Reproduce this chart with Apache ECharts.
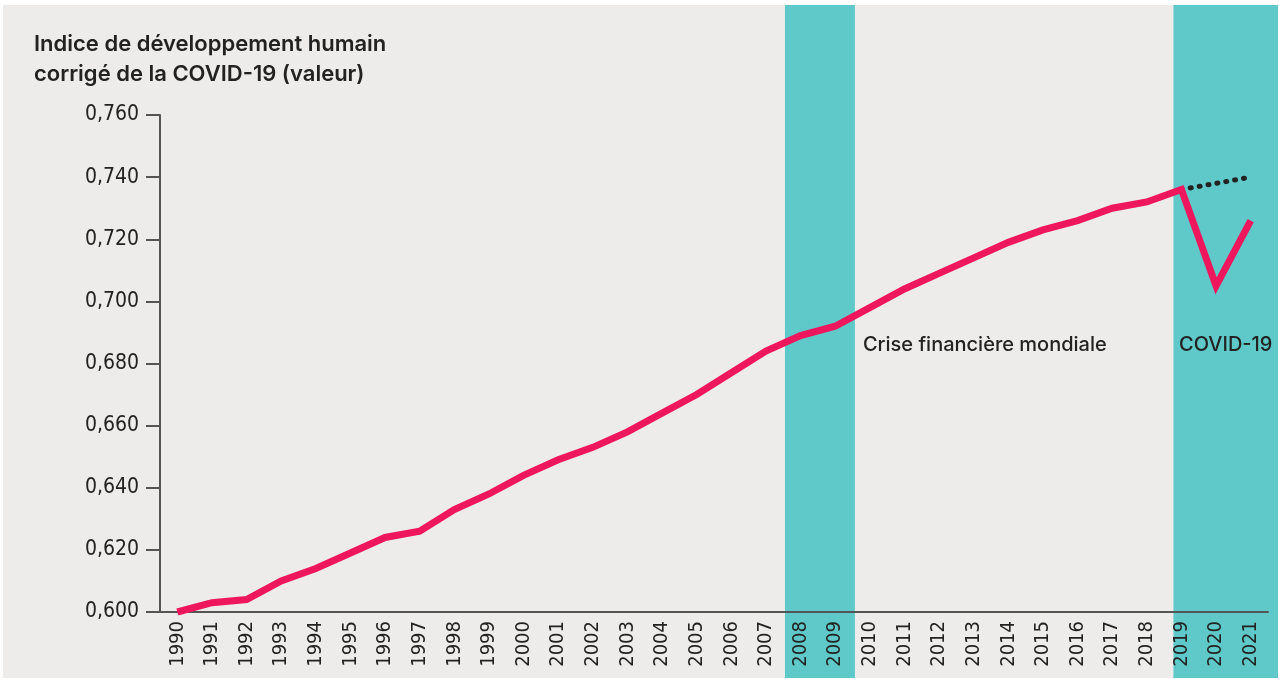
<!DOCTYPE html>
<html><head><meta charset="utf-8">
<script src="https://cdn.jsdelivr.net/npm/echarts@6/dist/echarts.min.js"></script>
<style>
html,body{margin:0;padding:0;background:#ffffff;width:1279px;height:679px;overflow:hidden;}
#wrap{position:absolute;left:3px;top:5px;width:1275px;height:673px;background:#EDECEA;}
</style></head>
<body><div id="wrap"></div>
<script>
const years = ['1990','1991','1992','1993','1994','1995','1996','1997','1998','1999','2000','2001','2002','2003','2004','2005','2006','2007','2008','2009','2010','2011','2012','2013','2014','2015','2016','2017','2018','2019','2020','2021'];
const hdiCovid = [0.600,0.603,0.604,0.610,0.614,0.619,0.624,0.626,0.633,0.638,0.644,0.649,0.653,0.658,0.664,0.670,0.677,0.684,0.689,0.692,0.698,0.704,0.709,0.714,0.719,0.723,0.726,0.730,0.732,0.736,0.705,0.726];
const hdiTrend = [null,null,null,null,null,null,null,null,null,null,null,null,null,null,null,null,null,null,null,null,null,null,null,null,null,null,null,null,null,0.736,0.738,0.740];
const yTicks = [0.600,0.620,0.640,0.660,0.680,0.700,0.720,0.740,0.760];
const crisisBand = [2007.55, 2009.57];
const covidBand = [2018.77, 2021.79];
const titleText = 'Indice de développement humain\ncorrigé de la COVID-19 (valeur)';
const crisisLabel = 'Crise financière mondiale';
const covidLabel = 'COVID-19';

// pick an installed condensed font
function pickFont(cands, fallback) {
  const c = document.createElement('canvas').getContext('2d');
  const s = '0,760 1990 2021 abcdefghijklmnop';
  for (const f of cands) {
    c.font = '40px monospace'; const w1 = c.measureText(s).width;
    c.font = "40px '" + f + "', monospace"; const w2 = c.measureText(s).width;
    c.font = '40px serif'; const w3 = c.measureText(s).width;
    c.font = "40px '" + f + "', serif"; const w4 = c.measureText(s).width;
    if (w1 !== w2 && w3 !== w4) return f;
  }
  return fallback;
}
const narrowName = pickFont(['Liberation Sans Narrow','DejaVu Sans Condensed','Roboto Condensed','Open Sans Condensed','Noto Sans Condensed'], null);
const narrow = narrowName ? "'" + narrowName + "'" : 'Roboto';
const yFont = narrowName ? 21 : 17;
const xFont = narrowName ? 20 : 17;
const uiFont = 'Inter, "Open Sans", sans-serif';

const chart = echarts.init(document.getElementById('wrap'), null, {renderer:'canvas'});
chart.setOption({
  backgroundColor: 'transparent',
  animation: false,
  title: {
    text: titleText, left: 26, top: 19,
    textStyle: {fontFamily: uiFont, fontSize: 22, fontWeight: 600, color: '#222', lineHeight: 30}
  },
  grid: [
    {left: 157, right: 10, top: 110, bottom: 66},
    {left: 157, right: 0, top: 0, bottom: 0}
  ],
  xAxis: [
    {type: 'category', gridIndex: 0, data: years, boundaryGap: true, z: 10,
     axisLine: {lineStyle: {color: '#555', width: 2}},
     axisTick: {show: false},
     axisLabel: {rotate: 90, interval: 0, margin: 9, color: '#222', fontFamily: narrow, fontSize: xFont}},
    {type: 'value', gridIndex: 1, min: 1989.5, max: covidBand[1], show: false}
  ],
  yAxis: [
    {type: 'value', gridIndex: 0, min: yTicks[0], max: yTicks[yTicks.length-1], interval: 0.02, z: 10,
     axisLine: {show: true, lineStyle: {color: '#555', width: 2}},
     axisTick: {show: true, length: 14, lineStyle: {color: '#555', width: 2}},
     splitLine: {show: false},
     axisLabel: {margin: 21, color: '#222', fontFamily: narrow, fontSize: yFont,
       formatter: v => v.toFixed(3).replace('.', ',')}},
    {type: 'value', gridIndex: 1, min: 0, max: 1, show: false}
  ],
  series: [
    {type: 'line', xAxisIndex: 1, yAxisIndex: 1, z: 1, data: [[1990, -1]], showSymbol: false, silent: true,
     lineStyle: {opacity: 0},
     markArea: {silent: true,
       itemStyle: {color: '#5FC9C9', opacity: 1},
       data: [
         [{xAxis: crisisBand[0], label: {show: true, position: 'right', distance: 8, offset: [0, 3], formatter: crisisLabel,
            color: '#222', fontFamily: uiFont, fontSize: 20, fontWeight: 500}},
          {xAxis: crisisBand[1]}],
         [{xAxis: covidBand[0], label: {show: true, position: 'inside', offset: [0, 3], formatter: covidLabel,
            color: '#222', fontFamily: uiFont, fontSize: 20, fontWeight: 500}},
          {xAxis: covidBand[1]}]
       ]}},
    {type: 'line', xAxisIndex: 0, yAxisIndex: 0, z: 12, data: hdiTrend, showSymbol: false, connectNulls: false,
     lineStyle: {color: '#222', width: 5, type: [1, 8], cap: 'round'}},
    {type: 'line', xAxisIndex: 0, yAxisIndex: 0, z: 13, data: hdiCovid, showSymbol: false,
     lineStyle: {color: '#EE175D', width: 7, join: 'miter', cap: 'butt'}}
  ]
});
</script></body></html>
